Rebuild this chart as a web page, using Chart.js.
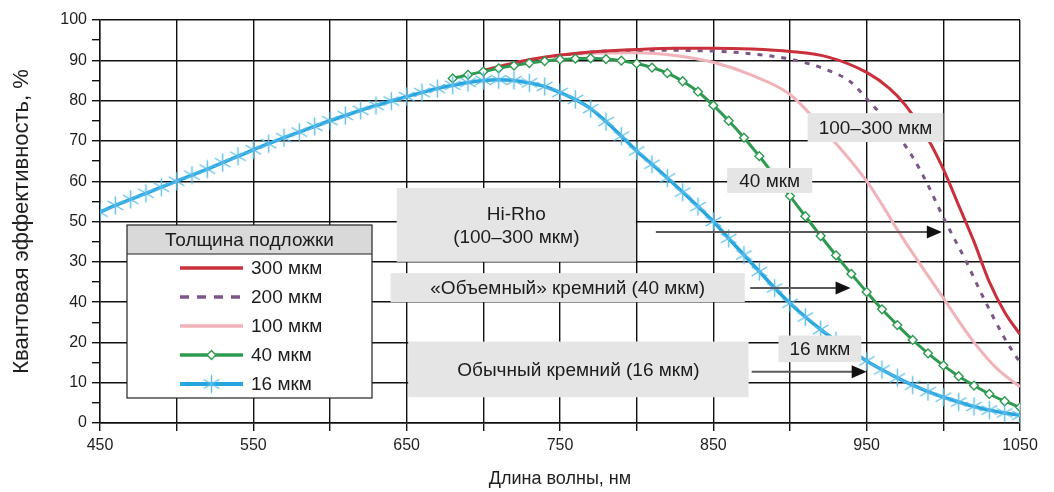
<!DOCTYPE html>
<html lang="ru">
<head>
<meta charset="utf-8">
<title>Квантовая эффективность</title>
<script src="https://cdn.jsdelivr.net/npm/chart.js@4.4.1/dist/chart.umd.min.js"></script>
<style>
  html, body { margin: 0; padding: 0; background: #fff; }
  #wrap { position: relative; width: 1054px; height: 492px; }
</style>
</head>
<body>
<div id="wrap"><canvas id="qe"></canvas></div>
<script>
// Axis tick labels (value axis labels are printed as they appear on the original figure)
const xTickLabels = ['450', '550', '650', '750', '850', '950', '1050'];
const yTickLabels = ['0', '10', '20', '40', '30', '50', '60', '70', '80', '90', '100'];

const seriesLabels = ['300 мкм', '200 мкм', '100 мкм', '40 мкм', '16 мкм'];
const legendTitle = 'Толщина подложки';

// 16 µm substrate: wavelength (nm) and quantum efficiency (%)
const nm16 = [450, 460, 470, 480, 490, 500, 510, 520, 530, 540, 550, 560, 570, 580, 590,
              600, 610, 620, 630, 640, 650, 660, 670, 680, 690, 700, 710, 720, 730, 740,
              750, 760, 770, 780, 790, 800, 810, 820, 830, 840, 850, 860, 870, 880, 890,
              900, 910, 920, 930, 940, 950, 960, 970, 980, 990, 1000, 1010, 1020, 1030, 1040, 1050];
const qe16 = [52.3, 54.0, 55.5, 57.0, 58.5, 60.0, 61.5, 63.0, 64.6, 66.2, 67.8, 69.3, 70.8, 72.2, 73.6,
              75.0, 76.3, 77.6, 78.8, 79.9, 81.0, 82.0, 83.0, 83.8, 84.5, 85.0, 85.2, 85.0, 84.4, 83.5,
              82.0, 80.3, 78.0, 74.8, 71.2, 67.5, 64.2, 60.8, 57.3, 53.7, 50.0, 45.8, 41.7, 37.6, 33.5,
              29.7, 26.3, 23.2, 20.4, 17.8, 15.4, 13.2, 11.2, 9.4, 7.8, 6.4, 5.2, 4.1, 3.2, 2.5, 1.9];

// 40 µm substrate
const nm40 = [680, 690, 700, 710, 720, 730, 740, 750, 760, 770, 780, 790, 800, 810, 820,
              830, 840, 850, 860, 870, 880, 890, 900, 910, 920, 930, 940, 950, 960, 970,
              980, 990, 1000, 1010, 1020, 1030, 1040, 1050];
const qe40 = [85.5, 86.4, 87.2, 88.0, 88.7, 89.3, 89.8, 90.2, 90.4, 90.5, 90.3, 89.9, 89.2, 88.2, 86.8,
              84.8, 82.2, 78.8, 75.0, 70.8, 66.2, 61.3, 56.3, 51.3, 46.4, 41.6, 37.0, 32.5, 28.2, 24.3,
              20.6, 17.3, 14.3, 11.6, 9.3, 7.2, 5.4, 3.9];

// 100 µm substrate
const nm100 = [700, 750, 800, 825, 850, 875, 900, 925, 950, 975, 1000, 1020, 1035, 1050];
const qe100 = [87.5, 91.3, 91.9, 91.2, 89.5, 86.3, 81.5, 71.5, 60.0, 45.0, 31.0, 20.0, 13.5, 9.0];

// 200 µm substrate
const nm200 = [700, 750, 800, 850, 875, 900, 925, 940, 950, 965, 980, 990, 1000, 1015, 1025, 1040, 1050];
const qe200 = [87.5, 91.2, 92.5, 92.3, 91.6, 90.3, 87.5, 84.5, 80.5, 74.0, 66.0, 59.0, 51.0, 40.0, 32.0, 21.0, 15.0];

// 300 µm substrate
const nm300 = [700, 725, 750, 775, 800, 825, 850, 875, 900, 925, 950, 965, 975, 990, 1000, 1010, 1020, 1030, 1040, 1050];
const qe300 = [87.5, 89.8, 91.3, 92.2, 92.7, 93.0, 93.0, 92.8, 92.2, 90.8, 87.0, 83.0, 79.0, 70.5, 63.0, 54.0, 45.0, 35.0, 27.5, 22.0];

const pts = (xs, ys) => xs.map((v, i) => ({ x: v, y: ys[i] }));

const FONT = "'Liberation Sans', Arial, Helvetica, sans-serif";
Chart.defaults.font.family = FONT;
Chart.defaults.color = '#1f1f1f';

// Six-armed asterisk used as the 16 µm marker
function asteriskSprite(r, color, w) {
  const s = Math.ceil(2 * r + w + 2);
  const c = document.createElement('canvas');
  c.width = s; c.height = s;
  const g = c.getContext('2d');
  g.strokeStyle = color; g.lineWidth = w; g.lineCap = 'round';
  const m = s / 2;
  for (let k = 0; k < 3; k++) {
    const a = Math.PI / 2 + k * Math.PI / 3;
    g.beginPath();
    g.moveTo(m - r * Math.cos(a), m - r * Math.sin(a));
    g.lineTo(m + r * Math.cos(a), m + r * Math.sin(a));
    g.stroke();
  }
  return c;
}
const star = asteriskSprite(8.5, '#5cbdea', 1.4);

const colors = {
  c300: '#c9303b',
  c200: '#7c5687',
  c100: '#f1b3ba',
  c40: '#2e9a50',
  c16: '#27a5df'
};

const datasets = [
  { label: seriesLabels[4], data: pts(nm16, qe16), borderColor: colors.c16, borderWidth: 3.5,
    pointStyle: star, pointRadius: 8.5, order: 0 },
  { label: seriesLabels[3], data: pts(nm40, qe40), borderColor: colors.c40, borderWidth: 3,
    pointStyle: 'rectRot', pointRadius: 4.4, pointBackgroundColor: '#ffffff',
    pointBorderColor: colors.c40, pointBorderWidth: 1.4, order: 1 },
  { label: seriesLabels[0], data: pts(nm300, qe300), borderColor: colors.c300, borderWidth: 3,
    pointRadius: 0, order: 2 },
  { label: seriesLabels[1], data: pts(nm200, qe200), borderColor: colors.c200, borderWidth: 3,
    borderDash: [5, 7], pointRadius: 0, order: 3 },
  { label: seriesLabels[2], data: pts(nm100, qe100), borderColor: colors.c100, borderWidth: 3,
    pointRadius: 0, order: 4 }
];
datasets.forEach(d => { d.fill = false; d.cubicInterpolationMode = 'monotone'; d.pointHoverRadius = d.pointRadius; });

// Callout boxes and arrows, placed in data units (nm, %)
const callouts = [
  { x0: 643.5, x1: 799.5, y0: 58.3, y1: 40.0, lines: ['Hi-Rho', '(100–300 мкм)'] },
  { x0: 639.5, x1: 870.5, y0: 37.2, y1: 30.0, lines: ['«Объемный» кремний (40 мкм)'] },
  { x0: 651.0, x1: 873.0, y0: 20.2, y1: 6.4, lines: ['Обычный кремний (16 мкм)'] },
  { x0: 892.5, x1: 946.5, y0: 21.7, y1: 15.1, lines: ['16 мкм'] },
  { x0: 859.0, x1: 914.5, y0: 63.3, y1: 57.1, lines: ['40 мкм'] },
  { x0: 911.5, x1: 1000.0, y0: 76.9, y1: 69.7, lines: ['100–300 мкм'] }
];
const arrows = [
  { x0: 812.5, x1: 999.0, y: 47.4 },
  { x0: 874.0, x1: 939.5, y: 33.5 },
  { x0: 875.0, x1: 950.0, y: 12.7 }
];

const overlayPlugin = {
  id: 'overlay',
  afterDatasetsDraw(chart) {
    const { ctx, chartArea: ca } = chart;
    const sx = chart.scales.x, sy = chart.scales.y;
    ctx.save();

    // grey callout boxes
    callouts.forEach(c => {
      const l = sx.getPixelForValue(c.x0), r = sx.getPixelForValue(c.x1);
      const t = sy.getPixelForValue(c.y0), b = sy.getPixelForValue(c.y1);
      ctx.fillStyle = '#e5e5e5';
      ctx.fillRect(l, t, r - l, b - t);
      ctx.fillStyle = '#1c1c1c';
      ctx.font = '19px ' + FONT;
      ctx.textAlign = 'center';
      ctx.textBaseline = 'middle';
      const lh = 23;
      const cy = (t + b) / 2 - (c.lines.length - 1) * lh / 2;
      c.lines.forEach((s, i) => ctx.fillText(s, (l + r) / 2, cy + i * lh + 1));
    });

    // arrows
    arrows.forEach(a => {
      const x0 = sx.getPixelForValue(a.x0), x1 = sx.getPixelForValue(a.x1);
      const y = sy.getPixelForValue(a.y);
      ctx.strokeStyle = '#5a5a5a';
      ctx.lineWidth = 2;
      ctx.beginPath(); ctx.moveTo(x0, y); ctx.lineTo(x1 - 12, y); ctx.stroke();
      ctx.fillStyle = '#111';
      ctx.beginPath();
      ctx.moveTo(x1, y); ctx.lineTo(x1 - 15, y - 6.5); ctx.lineTo(x1 - 15, y + 6.5);
      ctx.closePath(); ctx.fill();
    });

    // key box
    const L = ca.left + 27, R = ca.left + 272, T = ca.top + 205, B = ca.top + 378, H = 29;
    ctx.fillStyle = '#ffffff';
    ctx.fillRect(L, T, R - L, B - T);
    ctx.fillStyle = '#d9d9d9';
    ctx.fillRect(L, T, R - L, H);
    ctx.strokeStyle = '#222';
    ctx.lineWidth = 1.2;
    ctx.strokeRect(L, T, R - L, B - T);
    ctx.beginPath(); ctx.moveTo(L, T + H); ctx.lineTo(R, T + H); ctx.stroke();
    ctx.fillStyle = '#1c1c1c';
    ctx.font = '19px ' + FONT;
    ctx.textAlign = 'center';
    ctx.textBaseline = 'middle';
    ctx.fillText(legendTitle, (L + R) / 2, T + H / 2 + 1);

    const keyOrder = [2, 3, 4, 1, 0]; // dataset indices for 300, 200, 100, 40, 16
    keyOrder.forEach((di, i) => {
      const ds = chart.data.datasets[di];
      const y = T + 43 + i * 29;
      const lx0 = L + 53, lx1 = L + 116;
      ctx.save();
      ctx.strokeStyle = ds.borderColor;
      ctx.lineWidth = ds.borderWidth + 0.5;
      ctx.setLineDash(ds.borderDash ? [9, 8] : []);
      ctx.beginPath(); ctx.moveTo(lx0, y); ctx.lineTo(lx1, y); ctx.stroke();
      ctx.setLineDash([]);
      if (ds.pointRadius > 0) {
        ctx.fillStyle = ds.pointBackgroundColor || ds.borderColor;
        ctx.strokeStyle = ds.pointBorderColor || ds.borderColor;
        ctx.lineWidth = ds.pointBorderWidth || 1;
        Chart.helpers.drawPoint(ctx, {
          pointStyle: ds.pointStyle, radius: ds.pointRadius, rotation: 0,
          borderWidth: ds.pointBorderWidth || 1
        }, (lx0 + lx1) / 2, y);
      }
      ctx.restore();
      ctx.fillStyle = '#1c1c1c';
      ctx.font = '19px ' + FONT;
      ctx.textAlign = 'left';
      ctx.fillText(ds.label, L + 124, y + 1);
    });
    ctx.restore();
  }
};

new Chart(document.getElementById('qe'), {
  type: 'line',
  data: { datasets },
  options: {
    responsive: true,
    maintainAspectRatio: false,
    animation: false,
    events: [],
    layout: { padding: { top: 20, right: 34, left: 0, bottom: 0 } },
    plugins: { legend: { display: false }, tooltip: { enabled: false } },
    scales: {
      x: {
        type: 'linear', min: 450, max: 1050,
        ticks: {
          stepSize: 50, autoSkip: false, maxRotation: 0, padding: 5,
          font: { size: 16 }, color: '#1f1f1f',
          callback: v => { const i = (v - 450) / 100; return Number.isInteger(i) ? xTickLabels[i] : ''; }
        },
        grid: { color: '#111', lineWidth: 1.4, tickLength: 8, tickColor: '#111', tickWidth: 1.4 },
        border: { color: '#111', width: 1.4 },
        title: { display: true, text: 'Длина волны, нм', font: { size: 18 }, color: '#1f1f1f',
                 padding: { top: 0, bottom: 2 } },
        afterFit: s => { s.height = 69; }
      },
      y: {
        type: 'linear', min: 0, max: 100,
        ticks: {
          stepSize: 5, autoSkip: false, padding: 5,
          font: { size: 16 }, color: '#1f1f1f',
          callback: v => (v % 10 === 0 ? yTickLabels[v / 10] : '')
        },
        grid: {
          color: c => (c.tick && c.tick.value % 10 === 0 ? '#111' : 'rgba(0,0,0,0)'),
          lineWidth: 1.4, tickLength: 8, tickColor: '#111', tickWidth: 1.4
        },
        border: { color: '#111', width: 1.4 },
        title: { display: true, text: 'Квантовая эффективность, %', font: { size: 22 }, color: '#1f1f1f',
                 padding: { top: 9, bottom: 0 } },
        afterFit: s => { s.width = 100; }
      }
    }
  },
  plugins: [overlayPlugin]
});
</script>
</body>
</html>
